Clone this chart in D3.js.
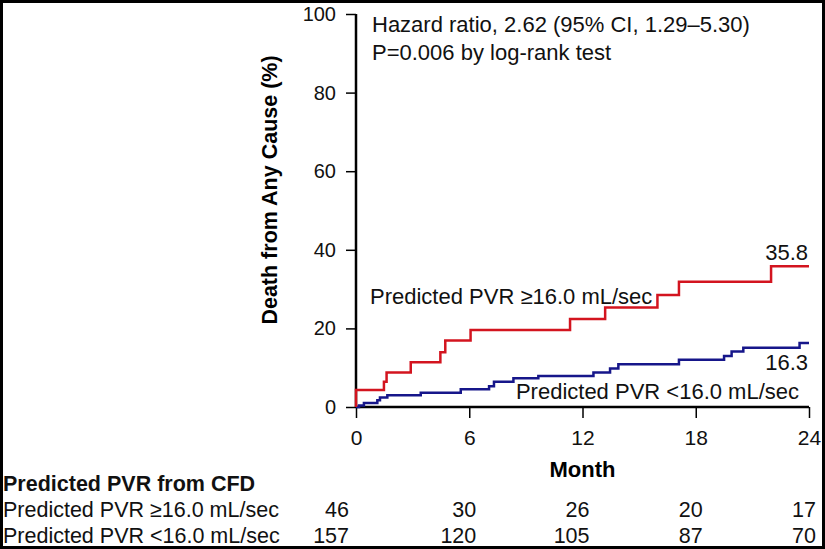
<!DOCTYPE html>
<html>
<head>
<meta charset="utf-8">
<script src="https://cdn.jsdelivr.net/npm/d3@7"></script>
<style>
  body { margin: 0; background: #fff; }
  svg { display: block; }
</style>
</head>
<body>
<svg id="chart"></svg>
<script>
// Kaplan-Meier steps: month of each step and cumulative death (%)
const highMonths = [0, 1.48, 1.62, 2.9, 4.47, 4.73, 6.07, 11.34, 13.2, 15.97, 17.11, 21.99, 24]
const highDeath = [4.3, 6.4, 8.8, 11.4, 13.9, 16.9, 19.6, 22.4, 25.3, 28.5, 31.9, 35.8, 35.8]

const lowMonths = [0, 0.16, 0.42, 1.13, 1.27, 1.66, 3.43, 5.55, 7.05, 7.31, 8.34, 9.66, 12.58, 13.46, 13.9, 17.11, 19.5, 19.9, 20.52, 23.5, 24]
const lowDeath = [0, 0.4, 1.0, 1.7, 2.4, 3.0, 3.6, 4.5, 5.3, 6.4, 7.3, 7.9, 8.8, 9.8, 10.9, 12.0, 13.0, 14.1, 15.1, 16.3, 16.3]

const monthTicks = [0, 6, 12, 18, 24]
const pctTicks = [0, 20, 40, 60, 80, 100]

const groupNames = ["Predicted PVR \u226516.0 mL/sec", "Predicted PVR <16.0 mL/sec"]
const atRiskHigh = [46, 30, 26, 20, 17]
const atRiskLow = [157, 120, 105, 87, 70]

const width = 825
const height = 549
const red = "#d3141f"
const blue = "#16168a"

const svg = d3.select("#chart")
    .attr("width", width)
    .attr("height", height)
    .style("font-family", "'Liberation Sans', Arial, sans-serif")

const x = d3.scaleLinear().domain([0, 24]).range([356, 809])
const y = d3.scaleLinear().domain([0, 100]).range([407, 14])

// outer frame
svg.append("rect")
    .attr("x", 1.5).attr("y", 1.5)
    .attr("width", width - 3).attr("height", height - 3)
    .attr("fill", "none")
    .attr("stroke", "#000")
    .attr("stroke-width", 3)

// axes
const yAxis = svg.append("g")
    .attr("transform", "translate(" + x(0) + ",0)")
    .call(d3.axisLeft(y).tickValues(pctTicks).tickSize(10).tickPadding(10))
yAxis.select(".domain").attr("stroke-width", 2.5).attr("d", "M0," + y(100) + "V" + y(0))
yAxis.selectAll(".tick line").attr("stroke-width", 1.5)
yAxis.selectAll(".tick text")
    .attr("font-size", 20)
    .attr("font-family", "'Liberation Sans', Arial, sans-serif")
    .attr("fill", "#111")

const xAxis = svg.append("g")
    .attr("transform", "translate(0," + y(0) + ")")
    .call(d3.axisBottom(x).tickValues(monthTicks).tickSize(11).tickPadding(12))
xAxis.select(".domain").attr("stroke-width", 2.5).attr("d", "M" + x(0) + ",0H" + x(24))
xAxis.selectAll(".tick line").attr("stroke-width", 1.5)
xAxis.selectAll(".tick text")
    .attr("font-size", 21)
    .attr("font-family", "'Liberation Sans', Arial, sans-serif")
    .attr("fill", "#111")

// axis titles
svg.append("text")
    .attr("transform", "translate(277,190) rotate(-90)")
    .attr("text-anchor", "middle")
    .attr("font-size", 21.5)
    .attr("font-weight", "bold")
    .text("Death from Any Cause (%)")

svg.append("text")
    .attr("x", x(12))
    .attr("y", 477)
    .attr("text-anchor", "middle")
    .attr("font-size", 22)
    .attr("font-weight", "bold")
    .text("Month")

// curves
const line = d3.line()
    .x(d => x(d[0]))
    .y(d => y(d[1]))
    .curve(d3.curveStepAfter)

const highPoints = [[0, 0]].concat(highMonths.map((m, i) => [m, highDeath[i]]))
const lowPoints = lowMonths.map((m, i) => [m, lowDeath[i]])

svg.append("path")
    .datum(lowPoints)
    .attr("d", line)
    .attr("fill", "none")
    .attr("stroke", blue)
    .attr("stroke-width", 2.5)

svg.append("path")
    .datum(highPoints)
    .attr("d", line)
    .attr("fill", "none")
    .attr("stroke", red)
    .attr("stroke-width", 2.5)

// annotations
const notes = svg.append("g").attr("font-size", 22).attr("fill", "#111")
notes.append("text").attr("x", 372).attr("y", 32).text("Hazard ratio, 2.62 (95% CI, 1.29\u20135.30)")
notes.append("text").attr("x", 372).attr("y", 60).text("P=0.006 by log-rank test")
notes.append("text").attr("x", 370).attr("y", 304).text(groupNames[0])
notes.append("text").attr("x", 799).attr("y", 399).attr("text-anchor", "end").text(groupNames[1])
notes.append("text").attr("x", 808).attr("y", 260).attr("text-anchor", "end").text(highDeath[highDeath.length - 1].toFixed(1))
notes.append("text").attr("x", 808).attr("y", 370).attr("text-anchor", "end").text(lowDeath[lowDeath.length - 1].toFixed(1))

// number at risk table
const table = svg.append("g").attr("font-size", 21.5).attr("fill", "#111")
table.append("text")
    .attr("x", 3).attr("y", 491)
    .attr("font-weight", "bold")
    .text("Predicted PVR from CFD")

const rows = [atRiskHigh, atRiskLow]
rows.forEach((vals, r) => {
    const rowY = 517 + r * 26
    table.append("text").attr("x", 3).attr("y", rowY).text(groupNames[r])
    table.selectAll(null)
        .data(vals)
        .enter().append("text")
        .attr("x", (d, i) => x(monthTicks[i]) + (i === 0 ? -7 : 7))
        .attr("y", rowY)
        .attr("text-anchor", "end")
        .text(d => d)
})
</script>
</body>
</html>
